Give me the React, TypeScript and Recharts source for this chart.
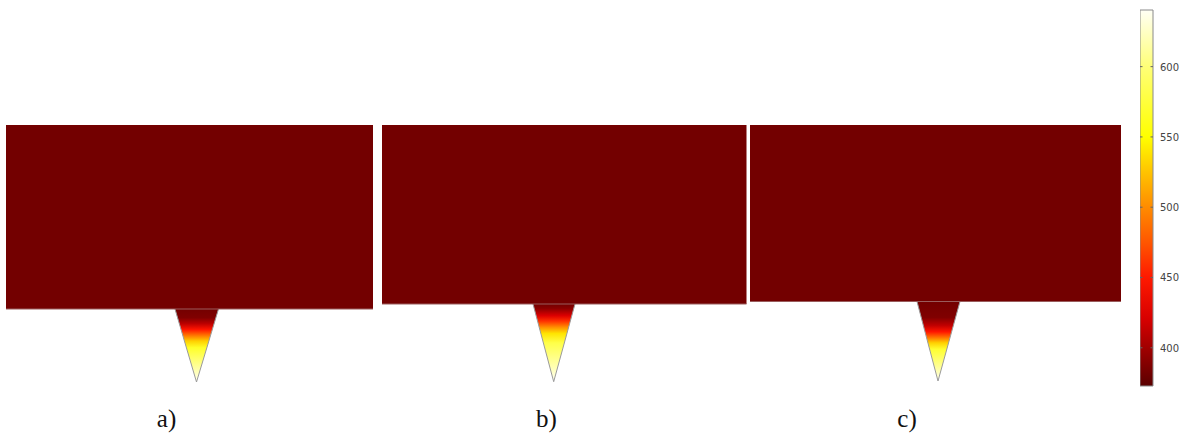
import React from 'react';
import { ComposedChart, Area, XAxis, YAxis, ReferenceArea, ReferenceLine } from 'recharts';

// ---- data (figure units) ----
const panelLabels = ['a)', 'b)', 'c)'];
const labelX = [166.5, 546.5, 907];
const plateLeft = [6, 382, 750];
const plateRight = [373, 746.5, 1121];
const plateTop = [125, 125, 125];
const plateBottom = [309, 304, 301.5];
const toolLeft = [175, 533, 917];
const toolRight = [218.5, 575, 960];
const toolTipX = [196.5, 553.7, 938];
const toolTipY = [382, 381.7, 381];

const colorTicks = [400, 450, 500, 550, 600];
const colorMin = 372.8;
const colorMax = 640.3;
const colorbarX = [0, 1];

const plateColor = '#730000';

const toolStops: [number, string][][] = [
  [
    [0, '#730000'], [0.12, '#800000'], [0.2, '#bb0000'], [0.28, '#ff1400'],
    [0.36, '#ff7400'], [0.44, '#ffd000'], [0.53, '#ffff28'], [0.78, '#ffff95'], [1, '#fffff2'],
  ],
  [
    [0, '#730000'], [0.06, '#8c0000'], [0.15, '#dd0000'], [0.22, '#ff3000'],
    [0.3, '#ff9000'], [0.38, '#ffe400'], [0.5, '#ffff48'], [0.76, '#ffffa0'], [1, '#fffff5'],
  ],
  [
    [0, '#730000'], [0.2, '#800000'], [0.3, '#c00000'], [0.38, '#ff1400'],
    [0.45, '#ff7000'], [0.52, '#ffd000'], [0.6, '#ffff30'], [0.82, '#ffff95'], [1, '#fffff2'],
  ],
];

const colorbarStops: [number, string][] = [
  [0, '#5a0000'], [0.1, '#a00000'], [0.18, '#d80000'], [0.29, '#ff1a00'],
  [0.38, '#ff5500'], [0.476, '#ff8c00'], [0.57, '#ffc400'], [0.663, '#ffff00'],
  [0.85, '#ffff78'], [1, '#fffff5'],
];

const toolData = panelLabels.map((_, i) => [
  { x: toolLeft[i], y: plateBottom[i] },
  { x: toolTipX[i], y: toolTipY[i] },
  { x: toolRight[i], y: plateBottom[i] },
]);

const colorbarData = colorbarX.map((x) => ({ x, v: colorMax }));

const PanelLabelTick = (props: any) => {
  const { x, y, payload } = props;
  const idx = labelX.indexOf(payload.value);
  return (
    <text x={x} y={y} dy={31} textAnchor="middle" fontFamily="'Liberation Serif', 'DejaVu Serif', serif" fontSize={25} fill="#111">
      {panelLabels[idx]}
    </text>
  );
};

const ColorTick = (props: any) => {
  const { x, y, payload } = props;
  return (
    <g>
      <line x1={x - 13} x2={x - 10.5} y1={y} y2={y} stroke="#666" strokeWidth={1} />
      <line x1={x - 2.5} x2={x} y1={y} y2={y} stroke="#666" strokeWidth={1} />
      <text x={x + 7} y={y} dy={4} fontFamily="'DejaVu Sans', sans-serif" fontSize={10} fill="#444">
        {payload.value}
      </text>
    </g>
  );
};

export default function App() {
  return (
    <div style={{ position: 'absolute', left: 0, top: 0, width: 1200, height: 436, background: '#fff' }}>
      <div style={{ position: 'absolute', left: 0, top: 0 }}>
        <ComposedChart width={1200} height={436} margin={{ top: 0, right: 0, bottom: 0, left: 0 }}>
          <defs>
            {toolStops.map((stops, i) => (
              <linearGradient key={i} id={`tool${i}`} x1="0" y1="0" x2="0" y2="1">
                {stops.map(([o, c], j) => (
                  <stop key={j} offset={o} stopColor={c} />
                ))}
              </linearGradient>
            ))}
          </defs>
          <XAxis
            type="number"
            dataKey="x"
            domain={[0, 1200]}
            allowDataOverflow
            ticks={labelX}
            interval={0}
            axisLine={false}
            tickLine={false}
            tickSize={0}
            tickMargin={0}
            height={40}
            tick={<PanelLabelTick />}
          />
          <YAxis type="number" dataKey="y" domain={[0, 396]} reversed allowDataOverflow hide />
          {panelLabels.map((_, i) => (
            <ReferenceArea
              key={`p${i}`}
              x1={plateLeft[i]}
              x2={plateRight[i]}
              y1={plateTop[i]}
              y2={plateBottom[i]}
              fill={plateColor}
              fillOpacity={1}
              stroke="none"
              ifOverflow="visible"
            />
          ))}
          {panelLabels.map((_, i) => (
            <ReferenceLine
              key={`b${i}`}
              segment={[
                { x: plateLeft[i], y: plateBottom[i] },
                { x: plateRight[i], y: plateBottom[i] },
              ]}
              stroke="#9a5c5c"
              strokeWidth={1}
              ifOverflow="visible"
            />
          ))}
          {panelLabels.map((_, i) => (
            <Area
              key={`t${i}`}
              data={toolData[i]}
              dataKey="y"
              type="linear"
              baseValue={plateBottom[i]}
              fill={`url(#tool${i})`}
              fillOpacity={1}
              stroke="#9a9a9a"
              strokeWidth={1}
              dot={false}
              activeDot={false}
              isAnimationActive={false}
            />
          ))}
        </ComposedChart>
      </div>
      <div style={{ position: 'absolute', left: 1140, top: 0 }}>
        <ComposedChart width={60} height={436} data={colorbarData} margin={{ top: 10, right: 0, bottom: 50, left: 0 }}>
          <defs>
            <linearGradient id="cbar" x1="0" y1="1" x2="0" y2="0">
              {colorbarStops.map(([o, c], j) => (
                <stop key={j} offset={o} stopColor={c} />
              ))}
            </linearGradient>
          </defs>
          <XAxis type="number" dataKey="x" domain={[0, 1]} hide />
          <YAxis
            type="number"
            orientation="right"
            domain={[colorMin, colorMax]}
            allowDataOverflow
            ticks={colorTicks}
            interval={0}
            width={47}
            axisLine={false}
            tickLine={false}
            tickSize={0}
            tickMargin={0}
            tick={<ColorTick />}
          />
          <Area
            dataKey="v"
            type="linear"
            baseValue={colorMin}
            fill="url(#cbar)"
            fillOpacity={1}
            stroke="none"
            dot={false}
            activeDot={false}
            isAnimationActive={false}
          />
          <ReferenceArea x1={0} x2={1} y1={colorMin} y2={colorMax} fill="none" stroke="#8a8a8a" strokeWidth={1} ifOverflow="visible" />
        </ComposedChart>
      </div>
    </div>
  );
}
